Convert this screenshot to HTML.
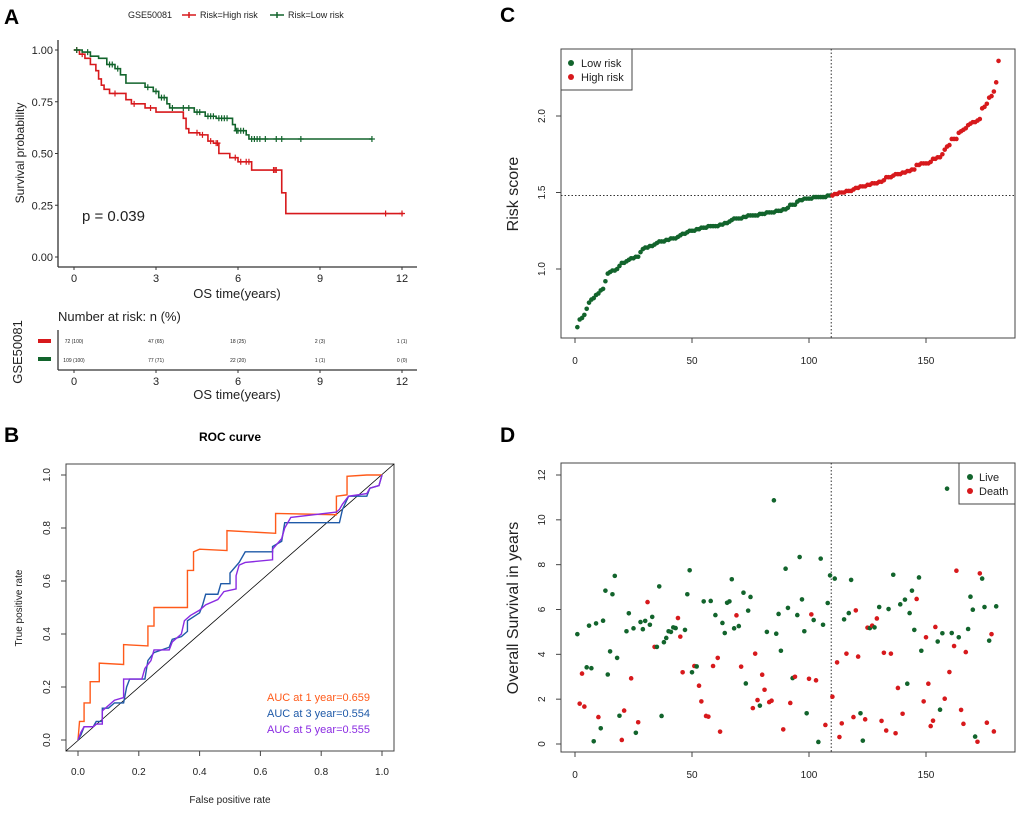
<!DOCTYPE html>
<html><head><meta charset="utf-8"><style>
body{margin:0;background:#fff}
svg{font-family:"Liberation Sans",Arial,sans-serif}
</style></head><body>
<svg id="s" width="1020" height="810" viewBox="0 0 1020 810"></svg>
<script>
// ===== Panel A data =====
const kmHighT=[0,0.2,0.4,0.6,0.8,0.9,1.0,1.1,1.3,1.9,2.1,2.6,3.0,4.0,4.1,4.2,4.6,4.9,5.1,5.3,5.7,6.0,6.5,7.6,7.75];
const kmHighS=[1,0.98,0.96,0.93,0.9,0.86,0.83,0.81,0.79,0.76,0.74,0.72,0.70,0.67,0.62,0.60,0.59,0.56,0.55,0.50,0.48,0.46,0.42,0.31,0.21];
const kmHighEnd=12.05;
const kmHighCens=[0.1,0.3,1.5,2.2,2.8,4.5,4.7,5.0,5.2,5.25,5.9,6.1,6.3,6.4,7.3,7.35,7.4,11.4,12.0];
const kmLowT=[0,0.3,0.6,0.9,1.2,1.5,1.7,1.9,2.6,2.9,3.1,3.4,3.5,4.4,4.8,5.2,5.8,5.9,6.3,6.4];
const kmLowS=[1,0.99,0.97,0.96,0.93,0.91,0.88,0.84,0.82,0.80,0.77,0.74,0.72,0.70,0.68,0.67,0.64,0.61,0.59,0.57];
const kmLowEnd=10.9;
const kmLowCens=[0.1,0.5,1.3,1.4,1.6,2.7,3.0,3.2,3.3,3.6,4.0,4.2,4.5,4.6,4.9,5.0,5.1,5.3,5.4,5.5,5.6,5.95,6.0,6.1,6.2,6.5,6.6,6.7,6.8,7.0,7.4,7.6,8.3,10.9];
const riskTimes=[0,3,6,9,12];
const riskHigh=["72 (100)","47 (65)","18 (25)","2 (3)","1 (1)"];
const riskLow=["109 (100)","77 (71)","22 (20)","1 (1)","0 (0)"];
// ===== Panel B data =====
const rocX1=[0,0.005,0.02,0.02,0.04,0.04,0.07,0.07,0.15,0.15,0.23,0.23,0.25,0.25,0.31,0.36,0.36,0.38,0.38,0.4,0.49,0.49,0.65,0.65,0.85,0.85,0.885,0.885,0.95,1];
const rocY1=[0,0.07,0.07,0.14,0.14,0.22,0.22,0.29,0.285,0.36,0.355,0.43,0.43,0.50,0.50,0.50,0.64,0.64,0.71,0.72,0.715,0.79,0.78,0.855,0.85,0.92,0.925,0.995,1,1];
const rocX3=[0,0.01,0.02,0.05,0.06,0.08,0.08,0.1,0.12,0.15,0.16,0.17,0.22,0.23,0.25,0.3,0.31,0.34,0.36,0.36,0.4,0.41,0.42,0.46,0.47,0.5,0.5,0.53,0.55,0.64,0.64,0.67,0.68,0.8,0.86,0.87,0.89,0.95,0.96,0.99,1];
const rocY3=[0,0.02,0.05,0.05,0.07,0.07,0.12,0.12,0.14,0.14,0.2,0.23,0.23,0.3,0.33,0.35,0.38,0.39,0.41,0.45,0.48,0.51,0.55,0.55,0.59,0.59,0.63,0.67,0.71,0.71,0.73,0.75,0.82,0.82,0.82,0.87,0.92,0.92,0.95,0.96,1];
const rocX5=[0,0.01,0.02,0.05,0.06,0.08,0.08,0.1,0.12,0.15,0.15,0.21,0.22,0.24,0.25,0.3,0.31,0.34,0.35,0.37,0.4,0.42,0.46,0.48,0.52,0.52,0.53,0.55,0.64,0.64,0.67,0.68,0.7,0.85,0.86,0.87,0.89,0.95,0.96,0.99,1];
const rocY5=[0,0.03,0.05,0.05,0.06,0.06,0.11,0.13,0.15,0.16,0.23,0.23,0.27,0.30,0.34,0.34,0.37,0.40,0.45,0.47,0.49,0.51,0.53,0.56,0.57,0.62,0.66,0.67,0.68,0.72,0.76,0.80,0.84,0.86,0.87,0.89,0.92,0.93,0.95,0.96,1];
const rocLabels=["AUC at 1 year=0.659","AUC at 3 year=0.554","AUC at 5 year=0.555"];
// ===== Panel C data =====
const riskScores=[0.62,0.67,0.68,0.70,0.74,0.78,0.80,0.81,0.83,0.84,0.86,0.87,0.92,0.97,0.98,0.99,0.99,1.00,1.02,1.04,
1.04,1.05,1.06,1.07,1.07,1.08,1.08,1.11,1.13,1.14,1.14,1.15,1.15,1.16,1.17,1.18,1.18,1.18,1.19,1.19,
1.20,1.20,1.20,1.21,1.22,1.23,1.23,1.24,1.25,1.25,1.25,1.26,1.26,1.27,1.27,1.27,1.28,1.28,1.28,1.28,
1.28,1.29,1.29,1.30,1.30,1.31,1.32,1.33,1.33,1.33,1.33,1.34,1.34,1.35,1.35,1.35,1.35,1.35,1.36,1.36,
1.36,1.37,1.37,1.37,1.37,1.38,1.38,1.38,1.39,1.39,1.40,1.42,1.42,1.42,1.44,1.45,1.45,1.46,1.46,1.46,
1.46,1.47,1.47,1.47,1.47,1.47,1.47,1.48,1.48,
1.48,1.49,1.49,1.50,1.50,1.50,1.51,1.51,1.51,1.52,1.53,1.53,1.54,1.54,1.54,1.55,1.55,1.56,1.56,1.56,
1.57,1.57,1.58,1.60,1.60,1.60,1.61,1.62,1.62,1.62,1.63,1.63,1.64,1.64,1.65,1.65,1.68,1.68,1.69,1.69,
1.69,1.69,1.70,1.72,1.72,1.73,1.73,1.75,1.78,1.80,1.81,1.85,1.85,1.85,1.89,1.90,1.91,1.92,1.94,1.95,
1.96,1.96,1.97,1.98,2.05,2.06,2.08,2.12,2.13,2.16,2.22,2.36];
const riskCut=109.5;
const riskThreshold=1.48;
// ===== Panel D data =====
const survYears=[4.9,1.8,3.14,1.67,3.42,5.28,3.38,0.12,5.38,1.2,0.7,5.5,6.84,3.1,4.13,6.68,7.5,3.84,1.26,0.18,
1.49,5.03,5.83,2.93,5.16,0.5,0.97,5.44,5.12,5.49,6.33,5.32,5.67,4.33,4.33,7.03,1.25,4.54,4.73,5.03,
5.0,5.2,5.17,5.62,4.79,3.2,5.09,6.68,7.75,3.2,3.48,3.46,2.6,1.9,6.36,1.25,1.22,6.38,3.48,5.75,
3.84,0.55,5.4,4.95,6.3,6.36,7.35,5.16,5.74,5.26,3.45,6.75,2.7,5.95,6.56,1.6,4.03,1.96,1.71,3.09,
2.42,5.0,1.87,1.93,10.87,4.92,5.8,4.16,0.65,7.82,6.07,1.83,2.94,3.0,5.75,8.34,6.45,5.03,1.37,2.91,
5.78,5.53,2.84,0.09,8.27,5.32,0.85,6.29,7.52,2.11,7.38,3.64,0.31,0.92,5.56,4.03,5.84,7.32,1.2,5.96,
3.9,1.37,0.15,1.1,5.19,5.17,5.28,5.2,5.6,6.11,1.03,4.07,0.6,6.02,4.03,7.55,0.48,2.5,6.23,1.35,
6.44,2.69,5.84,6.84,5.09,6.47,7.43,4.16,1.9,4.76,2.69,0.8,1.04,5.22,4.57,1.53,4.94,2.02,11.39,3.21,
4.95,4.37,7.73,4.76,1.52,0.9,4.1,5.13,6.57,5.99,0.33,0.1,7.61,7.38,6.11,0.95,4.61,4.9,0.56,6.14];
const survDead=[0,1,1,1,0,0,0,0,0,1,0,0,0,0,0,0,0,0,0,1,
1,0,0,1,0,0,1,0,0,0,1,0,0,1,0,0,0,0,0,0,
0,0,0,1,1,1,0,0,0,0,1,0,1,1,0,1,1,0,1,0,
1,1,0,0,0,0,0,0,1,0,1,0,0,0,0,1,1,1,0,1,
1,0,1,1,0,0,0,0,1,0,0,1,0,1,0,0,0,0,0,1,
1,0,1,0,0,0,1,0,0,1,0,1,1,1,0,1,0,0,1,1,
1,0,0,1,1,0,1,0,1,0,1,1,1,0,1,0,1,1,0,1,
0,0,0,0,0,1,0,0,1,1,1,1,1,1,0,0,0,1,0,1,
0,1,1,0,1,1,1,0,0,0,0,1,1,0,0,1,0,1,1,0];

const RED="#d7191c",GREEN="#12642c",NS="http://www.w3.org/2000/svg";
const svg=document.getElementById('s');
function el(tag,attrs,parent,txt){const e=document.createElementNS(NS,tag);for(const k in attrs)e.setAttribute(k,attrs[k]);if(txt!==undefined)e.textContent=txt;(parent||svg).appendChild(e);return e;}
function grp(name){const g=el('g',{});return g;}
function txt(g,x,y,s,size,o){o=o||{};const t=el('text',Object.assign({x:x,y:y,'font-size':size,fill:o.fill||'#222','text-anchor':o.anchor||'middle'},o.extra||{}),g,s);return t;}

// panel letters
[["A",4,24],["B",4,442],["C",500,22],["D",500,442]].forEach(p=>{const t=txt(svg,p[1],p[2],p[0],21,{anchor:'start',fill:'#000',extra:{'font-weight':'bold'},name:'panel-letter-'+p[0].toLowerCase()});});

// ===== Panel A =====
(function(){
const g=grp('km-plot');
const X=t=>74+t*(402-74)/12, Y=s=>257-s*(257-50);
el('line',{x1:58,y1:40,x2:58,y2:267,stroke:'#333','stroke-width':1.3},g);
el('line',{x1:58,y1:267,x2:417,y2:267,stroke:'#333','stroke-width':1.3},g);
[0,0.25,0.5,0.75,1].forEach(v=>{el('line',{x1:55,x2:58,y1:Y(v),y2:Y(v),stroke:'#333'},g);txt(g,53,Y(v)+4,v.toFixed(2),11,{anchor:'end',name:'y-tick-label'});});
[0,3,6,9,12].forEach(v=>{el('line',{x1:X(v),x2:X(v),y1:267,y2:270,stroke:'#333'},g);txt(g,X(v),282,String(v),11,{name:'x-tick-label'});});
txt(g,237,298,"OS time(years)",13,{name:'x-axis-title'});
txt(g,0,0,"Survival probability",12,{name:'y-axis-title',extra:{transform:'translate(24,153) rotate(-90)'}});
txt(g,82,221,"p = 0.039",15,{anchor:'start',name:'p-value'});
function km(T,S,end,cens,col,name){
  let d="M"+X(T[0])+","+Y(S[0]);
  for(let i=1;i<T.length;i++){d+="H"+X(T[i])+"V"+Y(S[i]);}
  d+="H"+X(end);
  const p=el('path',{d:d,fill:'none',stroke:col,'stroke-width':1.6},g);
  
  
  cens.forEach(c=>{let s=S[0];for(let i=0;i<T.length;i++)if(T[i]<=c)s=S[i];
    el('path',{d:`M${X(c)-3},${Y(s)}h6M${X(c)},${Y(s)-3}v6`,stroke:col,'stroke-width':1.2},g);});
}
km(kmHighT,kmHighS,kmHighEnd,kmHighCens,RED,'high-risk-curve');
km(kmLowT,kmLowS,kmLowEnd,kmLowCens,GREEN,'low-risk-curve');
const lg=grp('km-legend');
txt(lg,128,18,"GSE50081",9,{anchor:'start'});
el('path',{d:'M182,15h14M189,12v6',stroke:RED,'stroke-width':1.5},lg);
txt(lg,200,18,"Risk=High risk",9,{anchor:'start'});
el('path',{d:'M270,15h14M277,12v6',stroke:GREEN,'stroke-width':1.5},lg);
txt(lg,288,18,"Risk=Low risk",9,{anchor:'start'});
// risk table
const rt=grp('risk-table');
txt(rt,58,321,"Number at risk: n (%)",13,{anchor:'start',name:'risk-table-title'});
el('line',{x1:58,y1:330,x2:58,y2:370,stroke:'#333','stroke-width':1.3},rt);
el('line',{x1:58,y1:370,x2:417,y2:370,stroke:'#333','stroke-width':1.3},rt);
el('rect',{x:38,y:339,width:13,height:4,fill:RED},rt);
el('rect',{x:38,y:357,width:13,height:4,fill:GREEN},rt);
riskTimes.forEach((t,i)=>{txt(rt,X(t),343,riskHigh[i],5,{name:'risk-count-high'});txt(rt,X(t),362,riskLow[i],5,{name:'risk-count-low'});
 el('line',{x1:X(t),x2:X(t),y1:370,y2:373,stroke:'#333'},rt);txt(rt,X(t),385,String(t),11,{name:'x-tick-label'});});
txt(rt,237,399,"OS time(years)",13,{name:'x-axis-title'});
txt(rt,0,0,"GSE50081",13,{name:'strata-label',extra:{transform:'translate(22,352) rotate(-90)'}});
})();

// ===== Panel B =====
(function(){
const g=grp('roc-plot');
const X=v=>78+v*(382-78), Y=v=>740-v*(740-475);
el('rect',{x:66,y:464,width:328,height:287,fill:'none',stroke:'#444','stroke-width':1},g);
txt(g,230,441,"ROC curve",12,{fill:'#000',extra:{'font-weight':'bold'},name:'chart-title'});
[0,0.2,0.4,0.6,0.8,1].forEach(v=>{
 el('line',{x1:X(v),x2:X(v),y1:751,y2:756,stroke:'#444'},g);txt(g,X(v),775,v.toFixed(1),10,{name:'x-tick-label'});
 el('line',{x1:61,x2:66,y1:Y(v),y2:Y(v),stroke:'#444'},g);txt(g,0,0,v.toFixed(1),10,{name:'y-tick-label',extra:{transform:`translate(50,${Y(v)}) rotate(-90)`}});});
txt(g,230,803,"False positive rate",10,{name:'x-axis-title'});
txt(g,0,0,"True positive rate",10,{name:'y-axis-title',extra:{transform:'translate(22,608) rotate(-90)'}});
el('line',{x1:66,y1:751,x2:394,y2:464,stroke:'#000','stroke-width':0.8},g);
[[rocX1,rocY1,"#ff5a1a",'roc-1-year'],[rocX3,rocY3,"#1f5aa8",'roc-3-year'],[rocX5,rocY5,"#8a2be2",'roc-5-year']].forEach(c=>{
 const p=el('polyline',{points:c[0].map((x,i)=>X(x)+","+Y(c[1][i])).join(" "),fill:'none',stroke:c[2],'stroke-width':1.4},g);
 
 });
const cols=["#ff5a1a","#1f5aa8","#8a2be2"];
rocLabels.forEach((l,i)=>txt(g,267,701+i*16,l,11,{anchor:'start',fill:cols[i],name:'legend-entry'}));
})();

// ===== Panel C =====
(function(){
const g=grp('risk-score-plot');
const X=i=>575+i*(926-575)/150, Y=v=>269-(v-1)*153;
el('rect',{x:561,y:49,width:454,height:289,fill:'none',stroke:'#444'},g);
[0,50,100,150].forEach(v=>{el('line',{x1:X(v),x2:X(v),y1:338,y2:343,stroke:'#444'},g);txt(g,X(v),364,String(v),10,{name:'x-tick-label'});});
[1.0,1.5,2.0].forEach(v=>{el('line',{x1:556,x2:561,y1:Y(v),y2:Y(v),stroke:'#444'},g);txt(g,0,0,v.toFixed(1),10,{name:'y-tick-label',extra:{transform:`translate(545,${Y(v)}) rotate(-90)`}});});
txt(g,0,0,"Risk score",16,{name:'y-axis-title',extra:{transform:'translate(518,194) rotate(-90)'}});
el('line',{x1:X(riskCut),x2:X(riskCut),y1:49,y2:338,stroke:'#333','stroke-dasharray':'1.5,2'},g);
el('line',{x1:561,x2:1015,y1:Y(riskThreshold),y2:Y(riskThreshold),stroke:'#333','stroke-dasharray':'1.5,2'},g);
riskScores.forEach((v,i)=>{const c=el('circle',{cx:X(i+1),cy:Y(v),r:2.3,fill:(i+1)>riskCut?RED:GREEN},g);
 
 });
const lg=grp('risk-legend');
el('rect',{x:561,y:49,width:71,height:41,fill:'#fff',stroke:'#444'},lg);
el('circle',{cx:571,cy:63,r:3,fill:GREEN},lg);txt(lg,581,67,"Low risk",11,{anchor:'start'});
el('circle',{cx:571,cy:77,r:3,fill:RED},lg);txt(lg,581,81,"High risk",11,{anchor:'start'});
})();

// ===== Panel D =====
(function(){
const g=grp('survival-scatter');
const X=i=>575+i*(926-575)/150, Y=v=>744-v*(744-475)/12;
el('rect',{x:561,y:463,width:454,height:289,fill:'none',stroke:'#444'},g);
[0,50,100,150].forEach(v=>{el('line',{x1:X(v),x2:X(v),y1:752,y2:757,stroke:'#444'},g);txt(g,X(v),778,String(v),10,{name:'x-tick-label'});});
[0,2,4,6,8,10,12].forEach(v=>{el('line',{x1:556,x2:561,y1:Y(v),y2:Y(v),stroke:'#444'},g);txt(g,0,0,String(v),10,{name:'y-tick-label',extra:{transform:`translate(545,${Y(v)}) rotate(-90)`}});});
txt(g,0,0,"Overall Survival in years",16,{name:'y-axis-title',extra:{transform:'translate(518,608) rotate(-90)'}});
el('line',{x1:X(riskCut),x2:X(riskCut),y1:463,y2:752,stroke:'#333','stroke-dasharray':'1.5,2'},g);
survYears.forEach((v,i)=>{const c=el('circle',{cx:X(i+1),cy:Y(v),r:2.3,fill:survDead[i]?RED:GREEN},g);
 
 });
const lg=grp('status-legend');
el('rect',{x:959,y:463,width:56,height:41,fill:'#fff',stroke:'#444'},lg);
el('circle',{cx:970,cy:477,r:3,fill:GREEN},lg);txt(lg,979,481,"Live",11,{anchor:'start'});
el('circle',{cx:970,cy:491,r:3,fill:RED},lg);txt(lg,979,495,"Death",11,{anchor:'start'});
})();
</script>
</body></html>
